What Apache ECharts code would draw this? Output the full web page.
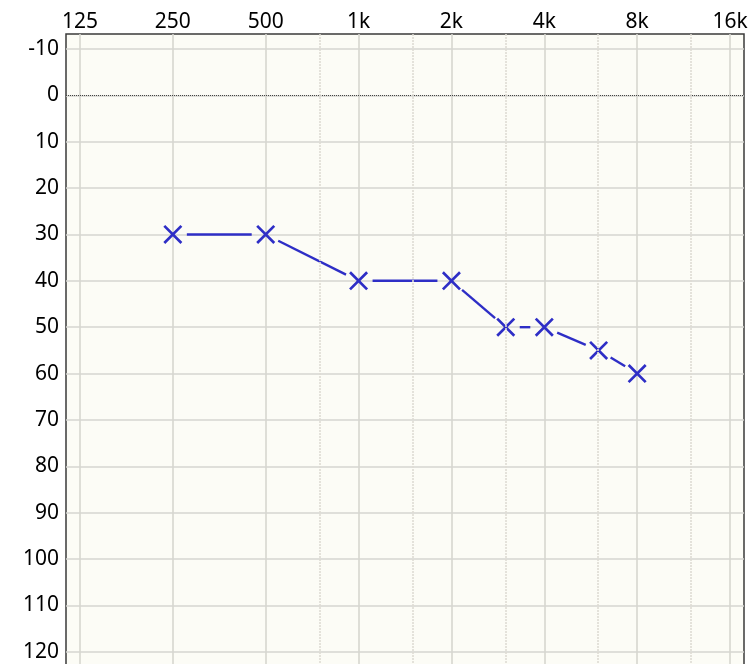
<!DOCTYPE html>
<html>
<head>
<meta charset="utf-8">
<script src="https://cdn.jsdelivr.net/npm/echarts@6/dist/echarts.min.js"></script>
<style>
html,body{margin:0;padding:0;background:#ffffff;}
#chart{width:751px;height:664px;}
</style>
</head>
<body>
<div id="chart"></div>
<script>
// ---- data ----
const frequencies = [250, 500, 1000, 2000, 3000, 4000, 6000, 8000];
const thresholds = [30, 30, 40, 40, 50, 50, 55, 60];
const octaveTickLabels = ['125', '250', '500', '1k', '2k', '4k', '8k', '16k'];
const interOctaveFreqs = [750, 1500, 3000, 6000, 12000];
const baseFreq = 125;

const oct = f => Math.log2(f / baseFreq);

const points = frequencies.map((f, i) => [oct(f), thresholds[i]]);
const segments = [];
for (let i = 0; i < points.length - 1; i++) {
  segments.push([points[i][0], points[i][1], points[i + 1][0], points[i + 1][1]]);
}

const blue = '#2e2ec6';
const xPath = 'path://M0,10 L10,0 L100,90 L90,100 Z M90,0 L100,10 L10,100 L0,90 Z';

const chart = echarts.init(document.getElementById('chart'), null, {renderer: 'canvas'});
chart.setOption({
  animation: false,
  backgroundColor: '#ffffff',
  grid: {
    left: 66, width: 678, top: 34, height: 666,
    containLabel: false, outerBoundsMode: 'none',
    show: true, backgroundColor: '#fcfcf6', borderColor: '#3a3a3a', borderWidth: 1.5
  },
  xAxis: {
    type: 'value', position: 'top',
    min: -0.1505, max: 7.1505, splitNumber: 7,
    axisLine: {show: false}, axisTick: {show: false},
    axisLabel: {
      margin: 1, color: '#000', fontSize: 21, fontFamily: 'Noto Sans',
      formatter: v => {
        const r = Math.round(v);
        return Math.abs(v - r) < 1e-6 && r >= 0 && r < octaveTickLabels.length ? octaveTickLabels[r] : '';
      }
    },
    splitLine: {show: true, showMinLine: false, showMaxLine: false, lineStyle: {color: '#d6d6d0', width: 1.6}}
  },
  yAxis: {
    type: 'value', inverse: true,
    min: -13.23, max: 130.4, splitNumber: 14,
    axisLine: {show: false}, axisTick: {show: false},
    axisLabel: {
      margin: 7, color: '#000', fontSize: 21, fontFamily: 'Noto Sans',
      formatter: v => {
        const r = Math.round(v);
        return Math.abs(v - r) < 1e-6 && r % 10 === 0 && r <= 120 ? String(r) : '';
      }
    },
    splitLine: {show: true, showMinLine: false, showMaxLine: false, lineStyle: {color: '#d6d6d0', width: 1.6}}
  },
  series: [
    {
      type: 'custom',
      data: segments,
      encode: {x: [0, 2], y: [1, 3]},
      z: 3,
      renderItem: (params, api) => {
        const p1 = api.coord([api.value(0), api.value(1)]);
        const p2 = api.coord([api.value(2), api.value(3)]);
        const dx = p2[0] - p1[0], dy = p2[1] - p1[1];
        const L = Math.hypot(dx, dy);
        const g = 14;
        if (L <= 2 * g) return null;
        const ux = dx / L, uy = dy / L;
        return {
          type: 'line',
          shape: {x1: p1[0] + ux * g, y1: p1[1] + uy * g, x2: p2[0] - ux * g, y2: p2[1] - uy * g},
          style: {stroke: blue, lineWidth: 2.4}
        };
      },
      markLine: {
        silent: true, symbol: 'none', label: {show: false},
        data: [
          {yAxis: 0, lineStyle: {color: '#444', type: [1, 1], width: 1}}
        ].concat(interOctaveFreqs.map(f => ({
          xAxis: oct(f), lineStyle: {color: '#dedbd4', type: [2, 1], width: 1.6}
        })))
      }
    },
    {
      type: 'scatter',
      data: points,
      symbol: xPath,
      symbolSize: 19,
      z: 4,
      itemStyle: {color: blue, opacity: 1}
    }
  ]
});
</script>
</body>
</html>
